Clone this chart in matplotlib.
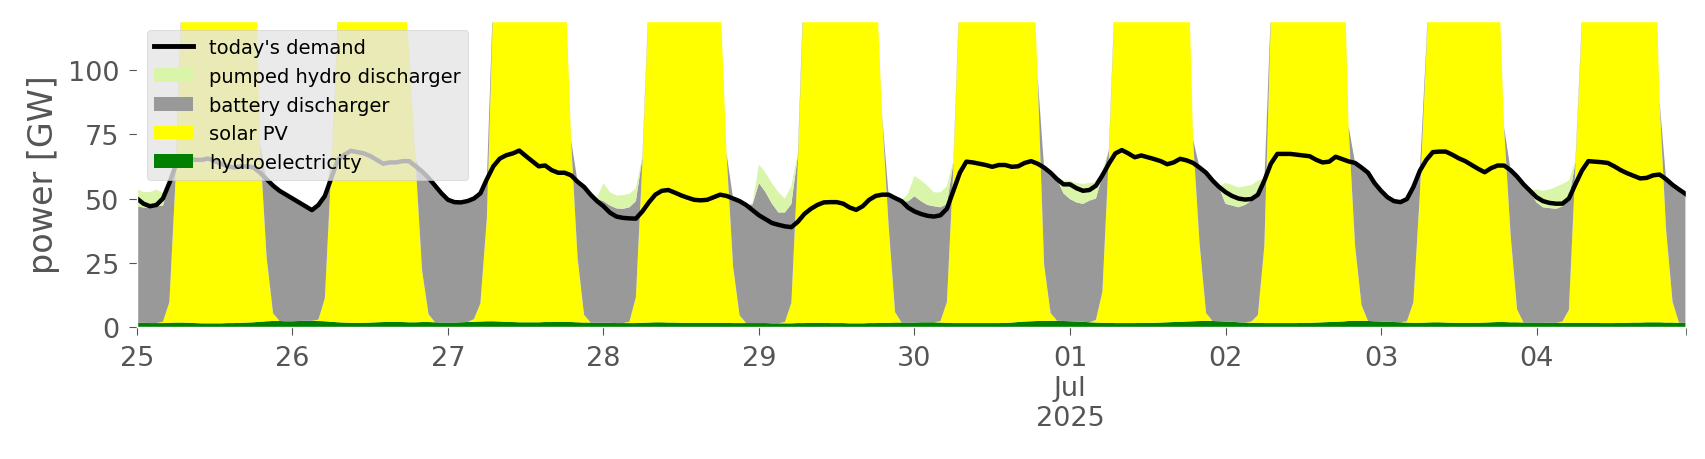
import matplotlib
matplotlib.use("Agg")
import matplotlib.pyplot as plt
import pandas as pd
from matplotlib.patches import Patch
from matplotlib.lines import Line2D

plt.style.use("ggplot")

# hourly values in GW, 2025-06-25 00:00 .. 2025-07-04 23:00, one row per day
demand = [
    50, 48, 47, 47.5, 50, 56, 63, 65.5, 65.5, 65, 65, 65.5, 64.5, 63.5, 62.5, 62, 62.5, 62.5, 62, 60, 57.5, 55, 53, 51.5,
    50, 48.5, 47, 45.5, 47.5, 51, 58, 65, 67, 68.5, 68, 67.5, 66.5, 65, 63.5, 64, 64, 64.5, 64.5, 62.5, 60.5, 58, 55, 52,
    49.5, 48.6, 48.5, 49, 50, 52, 57.5, 62.5, 65.5, 66.8, 67.5, 68.6, 66.5, 64.5, 62.5, 62.8, 61, 60, 60, 59, 56.5, 54.5, 51.5, 49,
    47, 44.5, 43, 42.5, 42.3, 42.2, 45, 48.5, 51.5, 53, 53.3, 52.3, 51.2, 50.3, 49.5, 49.3, 49.5, 50.5, 51.5, 51, 50, 49, 47.5, 45.5,
    43.5, 42, 40.5, 39.8, 39.2, 38.9, 41, 44, 46, 47.5, 48.5, 48.6, 48.6, 48, 46.5, 45.6, 47, 49.5, 51, 51.5, 51.5, 50.2, 49, 46.5,
    45, 44, 43.3, 43, 43.5, 46, 53, 60, 64.3, 64, 63.5, 63, 62.3, 63, 63, 62.3, 62.5, 63.8, 64.5, 63.5, 62, 60, 57.5, 55.5,
    55.5, 54, 53, 53.3, 55, 59, 63.5, 67.5, 68.8, 67.5, 66, 66.7, 66, 65.3, 64.5, 63.3, 64, 65.4, 64.8, 63.8, 62, 60, 57, 54.5,
    52.5, 51, 50, 49.6, 49.8, 51.5, 57, 63.5, 67.3, 67.3, 67.3, 67, 66.7, 66.4, 65, 64, 64.3, 66.2, 65.3, 64.4, 63.8, 62, 60, 56,
    53, 50.5, 49, 48.6, 49.8, 54.5, 60.8, 65, 68, 68.2, 68.2, 67, 65.6, 64.5, 63, 61.5, 60.2, 61.8, 62.8, 62.8, 61, 58.5, 55.5, 53,
    50.5, 49, 48.3, 48, 48, 50, 55.5, 60.8, 64.5, 64.3, 64.1, 63.8, 62.5, 61, 59.8, 58.8, 57.8, 58, 59, 59.3, 57.5, 55.3, 53.5, 51.8,
]

hydro = [
    1.8, 1.8, 1.7, 1.7, 1.7, 1.8, 1.9, 1.9, 1.8, 1.7, 1.6, 1.6, 1.6, 1.6, 1.7, 1.7, 1.8, 1.9, 2.0, 2.2, 2.4, 2.5, 2.5, 2.4,
    2.4, 2.5, 2.6, 2.6, 2.5, 2.4, 2.2, 2.0, 1.9, 1.8, 1.8, 1.8, 1.9, 2.0, 2.1, 2.2, 2.2, 2.1, 2.0, 2.0, 2.1, 2.1, 2.0, 1.9,
    1.9, 1.9, 2.0, 2.1, 2.2, 2.3, 2.4, 2.4, 2.3, 2.2, 2.1, 2.0, 2.0, 2.0, 2.0, 2.1, 2.1, 2.2, 2.2, 2.1, 2.0, 1.9, 1.9, 1.8,
    1.8, 1.8, 1.7, 1.7, 1.7, 1.7, 1.8, 1.9, 2.0, 2.0, 1.9, 1.9, 1.8, 1.8, 1.8, 1.8, 1.8, 1.8, 1.8, 1.8, 1.7, 1.7, 1.7, 1.7,
    1.7, 1.7, 1.6, 1.6, 1.6, 1.6, 1.7, 1.7, 1.8, 1.8, 1.8, 1.7, 1.7, 1.7, 1.6, 1.6, 1.6, 1.7, 1.7, 1.8, 1.8, 1.9, 1.9, 1.9,
    1.9, 2.0, 2.0, 2.0, 1.9, 1.8, 1.7, 1.7, 1.7, 1.7, 1.7, 1.7, 1.7, 1.7, 1.8, 1.9, 2.1, 2.3, 2.4, 2.5, 2.5, 2.6, 2.6, 2.5,
    2.4, 2.3, 2.2, 2.0, 1.9, 1.8, 1.8, 1.7, 1.7, 1.7, 1.7, 1.8, 1.8, 1.8, 1.9, 2.0, 2.1, 2.2, 2.3, 2.4, 2.5, 2.6, 2.5, 2.4,
    2.3, 2.2, 2.0, 1.9, 1.8, 1.8, 1.7, 1.7, 1.7, 1.7, 1.7, 1.7, 1.8, 1.8, 1.9, 2.0, 2.1, 2.2, 2.3, 2.5, 2.6, 2.6, 2.5, 2.4,
    2.3, 2.2, 2.1, 2.0, 1.9, 1.8, 1.8, 1.9, 2.0, 2.0, 1.9, 1.8, 1.8, 1.8, 1.8, 1.8, 1.9, 2.0, 2.1, 2.1, 2.0, 2.0, 1.9, 1.9,
    1.9, 1.9, 1.8, 1.8, 1.8, 1.8, 1.8, 1.8, 1.8, 1.8, 1.7, 1.7, 1.7, 1.8, 1.8, 1.9, 1.9, 2.0, 2.0, 2.0, 1.9, 1.9, 1.8, 1.8,
]

solar = [
    0, 0, 0, 0, 0.5, 8, 58, 130, 175, 205, 222, 230, 230, 225, 215, 205, 195, 185, 170, 68, 25, 3, 0, 0,
    0, 0, 0, 0, 0.5, 9, 60, 115, 170, 200, 218, 226, 228, 222, 212, 200, 185, 140, 105, 62, 20, 3, 0, 0,
    0, 0, 0, 0, 1, 7, 40, 125, 172, 202, 220, 228, 229, 224, 214, 203, 190, 170, 140, 70, 25, 3, 0, 0,
    0, 0, 0, 0, 0.5, 10, 62, 125, 172, 200, 218, 226, 228, 223, 213, 202, 188, 168, 128, 65, 22, 3, 0, 0,
    0, 0, 0, 0, 0.5, 8, 62, 135, 178, 205, 222, 230, 231, 226, 216, 205, 192, 175, 140, 80, 38, 4, 0, 0,
    0, 0, 0, 0, 0.5, 8, 60, 130, 176, 204, 220, 228, 230, 225, 215, 205, 192, 178, 160, 95, 22, 3, 0, 0,
    0, 0, 0, 0, 1, 12, 65, 130, 176, 205, 222, 230, 230, 226, 216, 205, 193, 180, 165, 70, 30, 3, 0, 0,
    0, 0, 0, 0, 0.5, 3, 30, 118, 172, 202, 220, 228, 229, 225, 216, 206, 195, 185, 170, 75, 29, 6, 0, 0,
    0, 0, 0, 0, 0.5, 8, 50, 105, 170, 200, 218, 226, 228, 224, 214, 202, 188, 170, 145, 75, 34, 5, 0, 0,
    0, 0, 0, 0, 0.5, 5, 60, 115, 170, 200, 218, 226, 228, 224, 214, 203, 190, 178, 175, 85, 36, 8, 0, 0,
]

battery = [
    45.2, 44.7, 44.8, 45.3, 45, 46.2, 4, 3, 0, 0, 0, 0, 0, 0, 0, 0, 0, 0, 0, 1, 30.1, 49.5, 50.5, 49.1,
    47.6, 46, 44.4, 42.9, 44.5, 39.6, 2, 2, 0, 0, 0, 0, 0, 0, 0, 0, 0, 0, 0, 1, 38.4, 52.9, 53, 50.1,
    47.6, 46.7, 46.5, 46.9, 46.8, 42.7, 15.1, 3, 0, 0, 0, 0, 0, 0, 0, 0, 0, 0, 0, 0.5, 29.5, 49.6, 49.6, 48,
    47.2, 45.5, 44.5, 44.3, 44.4, 37.3, 2, 2, 0, 0, 0, 0, 0, 0, 0, 0, 0, 0, 0, 0.5, 26.3, 44.3, 45.8, 46,
    54.3, 50.8, 46.4, 43, 42.5, 38.3, 3, 3, 0, 0, 0, 0, 0, 0, 0, 0, 0, 0, 0, 0.5, 11.7, 44.3, 47.1, 47,
    49, 47, 45.5, 45, 44.2, 38, 2, 2, 0, 0, 0, 0, 0, 0, 0, 0, 0, 0, 0, 0, 37.5, 54.4, 54.9, 49.5,
    47.4, 46.2, 45.7, 47.2, 47.1, 45, 2, 2, 0, 0, 0, 0, 0, 0, 0, 0, 0, 0, 0, 0.5, 29.5, 54.4, 54.5, 52,
    45.7, 45.1, 44.6, 45.6, 46.9, 47.2, 25, 3, 0, 0, 0, 0, 0, 0, 0, 0, 0, 0, 0, 0.5, 32.2, 53.4, 57.5, 53.6,
    50.7, 48.3, 46.9, 46.6, 47.4, 44.7, 9, 3, 0, 0, 0, 0, 0, 0, 0, 0, 0, 0, 0, 0.5, 25, 51.5, 53.6, 50.6,
    46.6, 44.7, 44.5, 44.2, 44.7, 43.2, 2, 2, 0, 0, 0, 0, 0, 0, 0, 0, 0, 0, 0, 0.5, 19.6, 45.4, 51.7, 50,
]

pumped_hydro = [
    6.7, 6, 6, 6.5, 5, 3, 0.5, 0, 0, 0, 0, 0, 0, 0, 0, 0, 0, 0, 0, 0, 0, 0, 0, 0,
    0, 0, 0, 0, 0, 0, 0, 0, 0, 0, 0, 0, 0, 0, 0, 0, 0, 0, 0, 0, 0, 0, 0, 0,
    0, 0, 0, 0, 0, 0, 0, 0, 0, 0, 0, 0, 0, 0, 0, 0, 0, 0, 0, 0, 0, 0, 0, 0.5,
    7, 5.1, 5, 5.3, 5.2, 5, 0.5, 0, 0, 0, 0, 0, 0, 0, 0, 0, 0, 0, 0, 0, 0, 0, 0, 0.5,
    7.2, 7.5, 8, 7.8, 5.4, 7, 1, 0, 0, 0, 0, 0, 0, 0, 0, 0, 0, 0, 0, 0, 0, 0, 0, 3,
    7.9, 8, 7.5, 5.4, 5.8, 7, 1, 0, 0, 0, 0, 0, 0, 0, 0, 0, 0, 0, 0, 0, 0, 0, 1, 5,
    7.2, 7.5, 7.8, 6.8, 6.3, 2, 0, 0, 0, 0, 0, 0, 0, 0, 0, 0, 0, 0, 0, 0, 0, 0, 0, 0.5,
    8, 8, 7.7, 7.3, 6, 5, 1, 0, 0, 0, 0, 0, 0, 0, 0, 0, 0, 0, 0, 0, 0, 0, 0, 0,
    0, 0, 0, 0, 0, 0, 0, 0, 0, 0, 0, 0, 0, 0, 0, 0, 0, 0, 0, 0, 0, 0, 0, 0.5,
    5, 6.4, 7.2, 8.5, 8.6, 7, 1, 0, 0, 0, 0, 0, 0, 0, 0, 0, 0, 0, 0, 0, 0, 0, 0, 0,
]

labels = ["today's demand", "pumped hydro discharger", "battery discharger", "solar PV", "hydroelectricity"]
colors = {"pumped hydro discharger": "#d9f5a9", "battery discharger": "#999999",
          "solar PV": "#ffff00", "hydroelectricity": "#008000"}

times = pd.date_range("2025-06-25 00:00", periods=len(demand), freq="h").to_pydatetime()

fig, ax = plt.subplots(figsize=(17.06, 4.6), dpi=100)
fig.subplots_adjust(left=0.0803, right=0.988, bottom=0.286, top=0.953)
ax.set_facecolor("white")
ax.grid(False)

ax.stackplot(times, hydro, solar, battery, pumped_hydro,
             colors=[colors["hydroelectricity"], colors["solar PV"],
                     colors["battery discharger"], colors["pumped hydro discharger"]],
             linewidth=0)
ax.plot(times, demand, color="black", lw=3.2)

ax.set_xlim(times[0], times[-1])
ax.set_ylim(0, 119)
ax.set_yticks([0, 25, 50, 75, 100])

day_ticks = times[::24]
ax.set_xticks(day_ticks)
ax.set_xticklabels([t.strftime("%d") + ("\nJul\n2025" if t.day == 1 else "") for t in day_ticks])
ax.set_xticks([times[-1]], minor=True)
ax.tick_params(axis="both", which="both", labelsize=19.5, length=5.5, pad=7, color="#555555")
ax.set_ylabel("power [GW]", fontsize=24, color="#555555", labelpad=6)

handles = [Line2D([0], [0], color="black", lw=3.5)]
handles += [Patch(facecolor=colors[l], edgecolor="none") for l in labels[1:]]
ax.legend(handles, labels, loc="upper left", fontsize=14, facecolor="#e5e5e5",
          framealpha=0.8, edgecolor="0.8")

plt.savefig("out.png", dpi=100)
